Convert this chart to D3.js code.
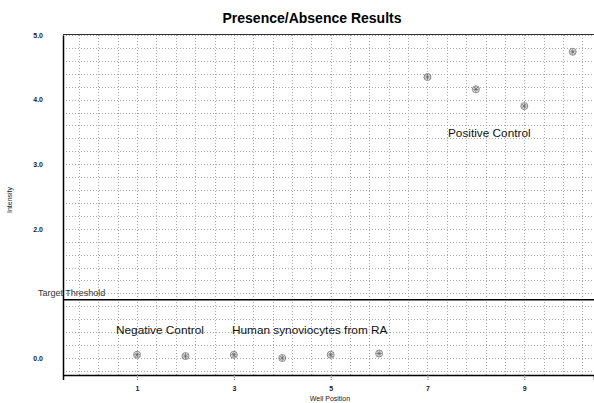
<!DOCTYPE html>
<html>
<head>
<meta charset="utf-8">
<script src="https://cdn.jsdelivr.net/npm/d3@7"></script>
<style>
  body { margin: 0; background: #fff; }
  text { font-family: Arial, "Liberation Sans", sans-serif; }
</style>
</head>
<body>
<script>
// well positions and intensities
var wells = [1, 2, 3, 4, 5, 6, 7, 8, 9, 10];
var intensity = [0.05, 0.03, 0.05, 0.0, 0.05, 0.07, 4.35, 4.16, 3.90, 4.74];
var xTicks = [1, 3, 5, 7, 9];
var yTicks = [0, 2, 3, 4, 5];
var threshold = 0.9;

var w = 594, h = 403;
// plot box (not "top" - that name belongs to window)
var pLeft = 63, pRight = 594, pTop = 35, pBottom = 375;

var svg = d3.select("body").append("svg")
    .attr("width", w)
    .attr("height", h);

var x = d3.scaleLinear().domain([-0.53, 10.44]).range([pLeft, pRight]);
var y = d3.scaleLinear().domain([-0.263, 5]).range([pBottom, pTop]);

// dotted grid, horizontal every 0.2, vertical every 0.4
var hGrid = d3.range(-0.2, 5.01, 0.2);
var vGrid = d3.range(-0.2, 10.3, 0.4);

svg.selectAll(".hg").data(hGrid).enter().append("line")
    .attr("x1", pLeft).attr("x2", pRight)
    .attr("y1", function(d) { return Math.round(y(d)) + 0.5; })
    .attr("y2", function(d) { return Math.round(y(d)) + 0.5; })
    .attr("stroke", "#a8a8a8")
    .attr("stroke-dasharray", "1,2");

svg.selectAll(".vg").data(vGrid).enter().append("line")
    .attr("x1", function(d) { return Math.round(x(d)) + 0.5; })
    .attr("x2", function(d) { return Math.round(x(d)) + 0.5; })
    .attr("y1", pTop).attr("y2", pBottom)
    .attr("stroke", "#a8a8a8")
    .attr("stroke-dasharray", "1,2");

// top border
svg.append("line")
    .attr("x1", pLeft).attr("x2", pRight)
    .attr("y1", pTop - 0.5).attr("y2", pTop - 0.5)
    .attr("stroke", "#333").attr("stroke-width", 1.2);

// axes
var yAxis = d3.axisLeft(y).tickValues(yTicks).tickFormat(d3.format(".1f"))
    .tickSize(0).tickPadding(20);
var gy = svg.append("g").attr("transform", "translate(" + pLeft + ",0)").call(yAxis);
gy.select(".domain").attr("stroke", "#000").attr("stroke-width", 1.5);
gy.selectAll("text").attr("font-size", 7).attr("font-weight", "bold").attr("fill", "#222");

var xAxis = d3.axisBottom(x).tickValues(xTicks).tickFormat(d3.format("d"))
    .tickSize(5).tickPadding(6);
var gx = svg.append("g").attr("transform", "translate(0," + pBottom + ")").call(xAxis);
gx.select(".domain").attr("stroke", "#000").attr("stroke-width", 1.5);
gx.selectAll(".tick line").attr("stroke", "#777").attr("stroke-dasharray", "1,1");
gx.selectAll("text").attr("font-size", 7).attr("font-weight", "bold").attr("fill", "#222");

// threshold line
svg.append("line")
    .attr("x1", pLeft).attr("x2", pRight)
    .attr("y1", y(threshold)).attr("y2", y(threshold))
    .attr("stroke", "#000").attr("stroke-width", 1.5);

svg.append("text")
    .attr("x", 38).attr("y", y(threshold) - 4)
    .attr("font-size", 9).attr("fill", "#333")
    .text("Target Threshold");

// markers: circle with an asterisk
var pts = svg.selectAll(".pt").data(wells).enter().append("g")
    .attr("transform", function(d, i) {
        return "translate(" + x(d) + "," + y(intensity[i]) + ")";
    });
pts.append("circle").attr("r", 3.5)
    .attr("fill", "none").attr("stroke", "#888").attr("stroke-width", 1);
[0, 45, 90, 135].forEach(function(a) {
    pts.append("line")
        .attr("x1", -3).attr("x2", 3).attr("y1", 0).attr("y2", 0)
        .attr("transform", "rotate(" + a + ")")
        .attr("stroke", "#666").attr("stroke-width", 0.8);
});

// annotations
svg.append("text").attr("x", 116).attr("y", 334)
    .attr("font-size", 11.8).attr("fill", "#111").text("Negative Control");
svg.append("text").attr("x", 232).attr("y", 334)
    .attr("font-size", 11.8).attr("fill", "#111").text("Human synoviocytes from RA");
svg.append("text").attr("x", 448).attr("y", 137)
    .attr("font-size", 11.8).attr("fill", "#111").text("Positive Control");

// titles
svg.append("text").attr("x", 312).attr("y", 23)
    .attr("text-anchor", "middle")
    .attr("font-size", 14).attr("font-weight", "bold")
    .text("Presence/Absence Results");

svg.append("text").attr("x", 330).attr("y", 401)
    .attr("text-anchor", "middle")
    .attr("font-size", 7).attr("fill", "#222")
    .text("Well Position");

svg.append("text")
    .attr("transform", "translate(12," + 200 + ") rotate(-90)")
    .attr("text-anchor", "middle")
    .attr("font-size", 7).attr("fill", "#222")
    .text("Intensity");
</script>
</body>
</html>
